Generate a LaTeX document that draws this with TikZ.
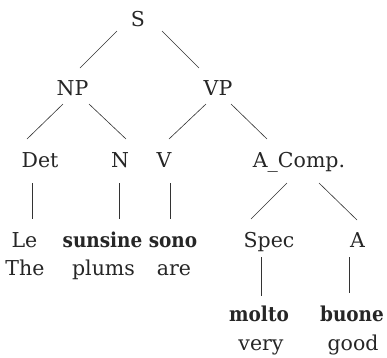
\documentclass[tikz,border=0pt]{standalone}
\usepackage{fontspec}
\setmainfont{DejaVu Serif}
\newfontfamily\srcfont{DejaVu Serif Condensed}
\begin{document}
\begin{tikzpicture}[x=1pt,y=1pt,yscale=-1,
  cat/.style={inner sep=0pt,anchor=base,font=\fontsize{20.5}{24}\selectfont,text=black!85},
  word/.style={cat,font=\fontsize{20.5}{24}\selectfont\srcfont\bfseries},
  branch/.style={draw=black!80,line width=0.6pt}]
\useasboundingbox (0,0) rectangle (387,357);

% Categories
\node[cat] (s) at (138,26) {S};
\node[cat] (np) at (72.5,95) {NP};
\node[cat] (vp) at (218,95) {VP};
\node[cat] (det) at (40,167) {Det};
\node[cat] (n) at (120,167) {N};
\node[cat] (v) at (164,167) {V};
\node[cat] (acomp) at (299,167) {A\_Comp.};
\node[cat] (spec) at (269,247) {Spec};
\node[cat] (a) at (357.5,247) {A};

% Italian words and their glosses
\node[cat] (le) at (24.5,247) {Le};
\node[cat] (the) at (25,275) {The};
\node[word] (sunsine) at (102.5,247) {sunsine};
\node[cat] (plums) at (103.5,275) {plums};
\node[word] (sono) at (173,247) {sono};
\node[cat] (are) at (174,275) {are};
\node[word] (molto) at (259,321) {molto};
\node[cat] (very) at (261,350) {very};
\node[word] (buone) at (352,321) {buone};
\node[cat] (good) at (353,350) {good};

% Branches
\draw[branch] ([shift={(-21,5)}]s.base) -- ([shift={(7.5,-27)}]np.base);
\draw[branch] ([shift={(24,5)}]s.base) -- ([shift={(-19,-27)}]vp.base);
\draw[branch] ([shift={(-9.5,9)}]np.base) -- ([shift={(-13,-28)}]det.base);
\draw[branch] ([shift={(16.5,9)}]np.base) -- ([shift={(6,-28)}]n.base);
\draw[branch] ([shift={(-12,9)}]vp.base) -- ([shift={(5,-28)}]v.base);
\draw[branch] ([shift={(13,9)}]vp.base) -- ([shift={(-32,-28)}]acomp.base);
\draw[branch] ([shift={(-8,16)}]det.base) -- ([shift={(7.5,-28)}]le.base);
\draw[branch] ([shift={(-1,16)}]n.base) -- ([shift={(16.5,-28)}]sunsine.base);
\draw[branch] ([shift={(6,16)}]v.base) -- ([shift={(-3,-28)}]sono.base);
\draw[branch] ([shift={(-12,16)}]acomp.base) -- ([shift={(-18,-28)}]spec.base);
\draw[branch] ([shift={(20,16)}]acomp.base) -- ([shift={(-0.5,-27)}]a.base);
\draw[branch] ([shift={(-8,10)}]spec.base) -- ([shift={(2,-25)}]molto.base);
\draw[branch] ([shift={(-8.5,10)}]a.base) -- ([shift={(-3,-28)}]buone.base);

\end{tikzpicture}
\end{document}
